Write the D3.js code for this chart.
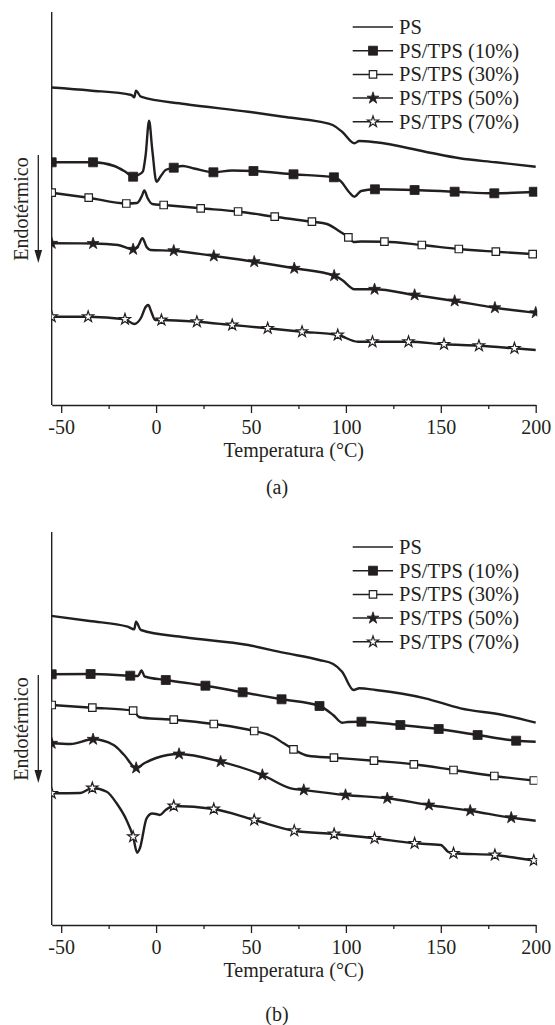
<!DOCTYPE html>
<html>
<head>
<meta charset="utf-8">
<script src="https://cdn.jsdelivr.net/npm/d3@7"></script>
<style>
  body { margin: 0; background: #fff; }
  text { font-family: "Liberation Serif", "Times New Roman", serif; fill: #231f20; }
</style>
</head>
<body>
<div id="chart"></div>
<script>
// DSC curves, heat flow in arbitrary units, temperature in °C
const labels = ['PS', 'PS/TPS (10%)', 'PS/TPS (30%)', 'PS/TPS (50%)', 'PS/TPS (70%)'];
const symbols = ['none', 'squareFilled', 'squareOpen', 'starFilled', 'starOpen'];
const xTicks = [-50, 0, 50, 100, 150, 200];
const xMinorTicks = [-25, 25, 75, 125, 175];

// panel (a)
const psA = [[-55,31.75],[-35,31.45],[-13,31.0],[-11.5,30.77],[-10.6,31.43],[-8,30.83],[15,30.1],[48.5,29.33],
  [67,28.83],[86,28.33],[93,28.0],[98,27.33],[104.5,26.17],[107,26.4],[115.7,26.27],[141.8,25.33],[160,24.67],[179,24.27],[200,23.83]];
const tps10A = [[-55,24.27],[-33.2,24.27],[-22,23.9],[-16,23.3],[-12.1,22.83],[-9,23.05],[-7,23.33],[-5.5,25.0],[-3.7,28.43],
  [-2,25.5],[0.2,22.33],[2.5,22.9],[5,23.5],[9.3,23.73],[14,23.9],[20,23.65],[30.2,23.27],[40,23.45],[51.3,23.4],[72.4,23.07],
  [93.7,22.77],[97.5,22.33],[101.5,21.33],[104.5,20.83],[108,21.4],[115.3,21.57],[136.2,21.5],[157.3,21.33],[178.2,21.17],[200,21.33]];
const tps30A = [[-55,21.23],[-35.5,20.73],[-15.7,20.15],[-10,20.2],[-7.5,20.9],[-6.2,21.45],[-4.5,20.7],[-2,20.1],[4,20.0],
  [23.5,19.67],[43.2,19.35],[62.5,18.83],[82.1,18.33],[90,18.1],[97,17.33],[101.3,16.77],[104,16.3],[108,16.35],[120.3,16.33],
  [140,16.0],[159.5,15.6],[179,15.33],[200,15.07]];
const tps50A = [[-55,16.17],[-33.2,16.15],[-20,16.0],[-12.1,15.57],[-9.5,15.9],[-7.2,16.67],[-5,15.8],[-3,15.5],[9.3,15.43],
  [30.4,14.9],[51.7,14.33],[72.8,13.67],[93.8,12.93],[98,12.5],[104.5,11.57],[115.1,11.57],[136.2,11.0],[157.3,10.4],[178.5,9.73],[200,9.23]];
const tps70A = [[-55,8.83],[-35.8,8.83],[-16.4,8.57],[-11.5,8.1],[-8,8.7],[-5.5,9.8],[-4.1,10.0],[-2.5,9.3],[-0.5,8.5],[2.8,8.5],
  [21.5,8.33],[40.1,8.0],[58.8,7.67],[76.9,7.33],[95.7,7.0],[106.3,6.33],[114,6.33],[133,6.33],[151.7,6.07],[170.1,5.93],[188.8,5.67],[200,5.5]];

const marks10A = [-55, -33.2, -12.1, 9.3, 30.2, 51.3, 72.4, 93.7, 115.3, 136.2, 157.3, 178.2, 199];
const marks30A = [-55, -35.5, -15.7, 4, 23.5, 43.2, 62.5, 82.1, 101.3, 120.3, 140, 159.5, 179, 198.4];
const marks50A = [-55, -33.2, -12.1, 9.3, 30.4, 51.7, 72.8, 93.8, 115.1, 136.2, 157.3, 178.5, 200];
const marks70A = [-55, -35.8, -16.4, 2.8, 21.5, 40.1, 58.8, 76.9, 95.7, 114, 133, 151.7, 170.1, 188.8];

// panel (b)
const psB = [[-55,30.9],[-35,30.4],[-15,29.83],[-11.5,29.57],[-10.6,30.33],[-8,29.5],[15,28.77],[48.5,28.0],[67,27.23],
  [86,26.5],[93.3,26.1],[98,25.33],[104.1,23.5],[107,23.67],[115.7,23.5],[141.8,22.67],[160.4,21.67],[182.8,21.0],[200,20.23]];
const tps10B = [[-55,25.07],[-34.5,25.1],[-13.6,24.93],[-9.5,24.9],[-7.7,25.45],[-6,24.85],[5.1,24.5],[26,23.93],[45.6,23.27],
  [66.1,22.57],[86.1,21.9],[93.3,21.0],[98,20.23],[101,20.3],[108.2,20.33],[128.7,20.0],[148.9,19.6],[169.4,19.0],[189.7,18.43],[200,18.33]];
const tps30B = [[-55,22.0],[-33.6,21.73],[-12.1,21.43],[-9,20.8],[-7,20.73],[9.3,20.53],[30.4,20.1],[51.7,19.4],[62,18.8],
  [67.2,18.17],[72.4,17.57],[80,16.93],[93.7,16.73],[114.8,16.43],[135.8,16.07],[156.7,15.5],[178.2,14.9],[200,14.43]];
const tps50B = [[-55,18.17],[-45,18.1],[-33.2,18.57],[-22.4,18.0],[-16.8,17.0],[-10.5,15.7],[-6,16.2],[0,16.7],[12.1,17.1],
  [34,16.33],[56,15.0],[71,13.67],[77.8,13.5],[99.8,13.0],[121.8,12.67],[143.7,12.0],[165.5,11.43],[187.1,10.73],[200,10.43]];
const tps70B = [[-55,13.17],[-40,13.2],[-33.6,13.7],[-26,13.33],[-20.8,12.17],[-15.6,10.5],[-12.1,8.83],[-10,7.23],[-8.5,7.7],
  [-5,10.67],[-2,11.15],[0,11.1],[2,11.0],[5,11.5],[9.3,11.9],[30.4,11.6],[51.7,10.5],[72.8,9.43],[93.8,9.1],[115.1,8.67],
  [136.2,8.17],[150,8.0],[154,7.3],[156.7,7.17],[178.5,7.0],[190,6.7],[200,6.43]];

const marks10B = [-55, -34.5, -13.6, 5.1, 26, 45.6, 66.1, 86.1, 108.2, 128.7, 148.9, 169.4, 189.7];
const marks30B = [-55, -33.6, -12.1, 9.3, 30.4, 51.7, 72.4, 93.7, 114.8, 135.8, 156.7, 178.2, 199];
const marks50B = [-55, -33.2, -10.5, 12.1, 34, 56, 77.8, 99.8, 121.8, 143.7, 165.5, 187.1];
const marks70B = [-55, -33.6, -12.1, 9.3, 30.4, 51.7, 72.8, 93.8, 115.1, 136.2, 156.7, 178.5, 199];

const ink = '#231f20';
const svg = d3.select('#chart').append('svg').attr('width', 555).attr('height', 1025);

const x = d3.scaleLinear().domain([-55, 200]).range([51.7, 535.7]);
const y = d3.scaleLinear().domain([0, 39.3]).range([405, 12]);
const line = d3.line().x(d => x(d[0])).y(d => y(d[1])).curve(d3.curveMonotoneX);

svg.append('defs').append('clipPath').attr('id', 'plotClip')
  .append('rect').attr('x', x.range()[0]).attr('y', 0).attr('width', x.range()[1] - x.range()[0] + 1.5).attr('height', 420);

function valueAt(series, t) {
  const i = d3.bisector(d => d[0]).left(series, t);
  if (i <= 0) return series[0][1];
  if (i >= series.length) return series[series.length - 1][1];
  const a = series[i - 1], b = series[i];
  return a[1] + (b[1] - a[1]) * (t - a[0]) / (b[0] - a[0]);
}

function drawMarker(g, kind, cx, cy) {
  if (kind === 'none') return;
  const square = kind.startsWith('square');
  const filled = kind.endsWith('Filled');
  const size = square ? (filled ? 81 : 56) : (filled ? 44 : 38);
  g.append('path')
    .attr('d', d3.symbol(square ? d3.symbolSquare : d3.symbolStar, size)())
    .attr('transform', `translate(${cx},${cy})`)
    .attr('fill', filled ? ink : '#fff')
    .attr('stroke', ink)
    .attr('stroke-width', filled ? 0.8 : 1.2);
}

function drawPanel(offset, series, marks, caption, captionDy) {
  const g = svg.append('g').attr('transform', `translate(0,${offset})`);

  // y axis: plain line
  g.append('line')
    .attr('x1', x.range()[0]).attr('x2', x.range()[0])
    .attr('y1', y.range()[1]).attr('y2', y.range()[0])
    .attr('stroke', ink).attr('stroke-width', 1.4);

  // x axis
  const ax = g.append('g').attr('transform', `translate(0,${y.range()[0]})`)
    .call(d3.axisBottom(x).tickValues(xTicks).tickSize(8).tickSizeOuter(0).tickPadding(7).tickFormat(d => String(d)));
  ax.select('.domain').attr('stroke', ink).attr('stroke-width', 1.4);
  ax.selectAll('.tick line').attr('stroke', ink).attr('stroke-width', 1.3);
  ax.selectAll('.tick text').attr('font-size', 20).attr('font-family', '"Liberation Serif", serif').attr('fill', ink);

  const axm = g.append('g').attr('transform', `translate(0,${y.range()[0]})`)
    .call(d3.axisBottom(x).tickValues(xMinorTicks).tickSize(4).tickFormat(''));
  axm.select('.domain').remove();
  axm.selectAll('.tick line').attr('stroke', ink).attr('stroke-width', 1.3);

  g.append('text')
    .attr('x', (x.range()[0] + x.range()[1]) / 2)
    .attr('y', y.range()[0] + 52)
    .attr('text-anchor', 'middle')
    .attr('font-size', 20)
    .text('Temperatura (°C)');

  g.append('text')
    .attr('x', 277)
    .attr('y', y.range()[0] + captionDy)
    .attr('text-anchor', 'middle')
    .attr('font-size', 20)
    .text(caption);

  // y label with arrow
  g.append('text')
    .attr('transform', `translate(28,209) rotate(-90)`)
    .attr('text-anchor', 'middle')
    .attr('font-size', 20)
    .text('Endotérmico');
  g.append('line')
    .attr('x1', 38.3).attr('x2', 38.3).attr('y1', 155).attr('y2', 252)
    .attr('stroke', ink).attr('stroke-width', 1.3);
  g.append('path')
    .attr('d', 'M34.5,250 L42.1,250 L38.3,263 Z')
    .attr('fill', ink);

  // curves and markers
  const plot = g.append('g').attr('clip-path', 'url(#plotClip)');
  series.forEach((s, i) => {
    plot.append('path')
      .datum(s)
      .attr('fill', 'none')
      .attr('stroke', ink)
      .attr('stroke-width', 2.4)
      .attr('stroke-linejoin', 'round')
      .attr('d', line);
    if (marks[i]) {
      marks[i].forEach(t => drawMarker(plot, symbols[i], x(t), y(valueAt(s, t))));
    }
  });

  // legend
  const leg = g.append('g');
  labels.forEach((lab, i) => {
    const cy = 27 + i * 23.7;
    leg.append('line')
      .attr('x1', 352.7).attr('x2', 393).attr('y1', cy).attr('y2', cy)
      .attr('stroke', ink).attr('stroke-width', 1.5);
    drawMarker(leg, symbols[i], 373, cy);
    leg.append('text')
      .attr('x', 399).attr('y', cy + 7)
      .attr('font-size', 20.5)
      .text(lab);
  });
}

drawPanel(0, [psA, tps10A, tps30A, tps50A, tps70A], [null, marks10A, marks30A, marks50A, marks70A], '(a)', 89);
drawPanel(520, [psB, tps10B, tps30B, tps50B, tps70B], [null, marks10B, marks30B, marks50B, marks70B], '(b)', 96);
</script>
</body>
</html>
